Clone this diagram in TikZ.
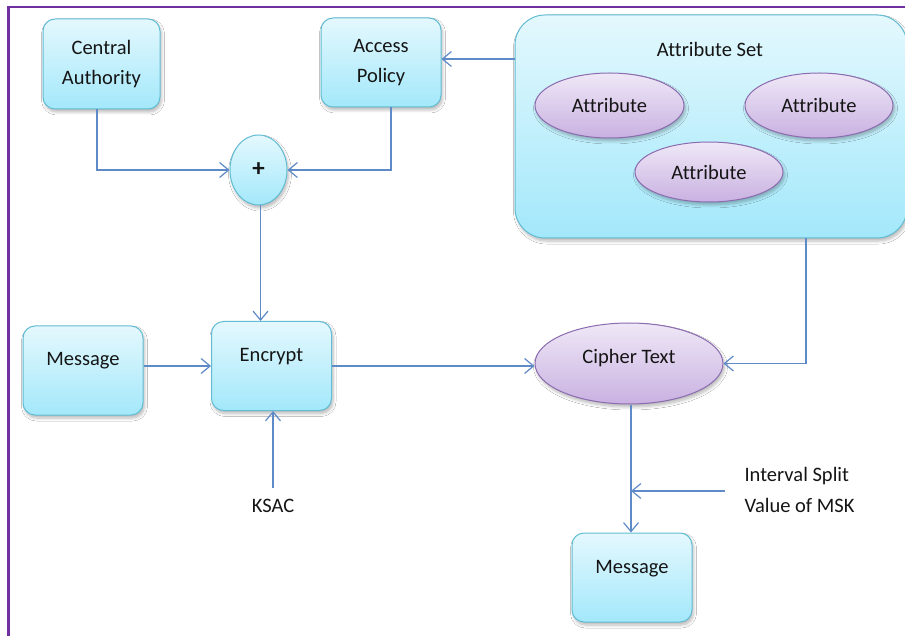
\documentclass[tikz,border=0pt]{standalone}
\usepackage{fontspec}
\setmainfont{Carlito}[Ligatures=NoCommon]
\usetikzlibrary{arrows.meta,shapes.geometric,shadows.blur,calc}
\definecolor{boxtop}{HTML}{E4F8FD}
\definecolor{boxbot}{HTML}{A3E8FB}
\definecolor{boxdraw}{HTML}{62BCD4}
\definecolor{elltop}{HTML}{EFE8F7}
\definecolor{ellbot}{HTML}{C9B1E1}
\definecolor{elldraw}{HTML}{8C6CB0}
\definecolor{linec}{HTML}{5F8AC8}
\definecolor{framec}{HTML}{7030A0}
\definecolor{txt}{HTML}{151515}
\tikzset{
  every node/.style={font=\fontsize{20.5}{30.5}\selectfont, text=txt},
  shade/.style={blur shadow={shadow blur steps=6, shadow xshift=1.5pt, shadow yshift=-3pt, shadow opacity=28, shadow blur radius=3pt}},
  box/.style={rectangle, rounded corners=12pt, draw=boxdraw, line width=1pt,
    top color=boxtop, bottom color=boxbot, shade, minimum width=120pt, minimum height=89pt,
    inner sep=0pt, align=center},
  upbox/.style={box, text height=14pt, text depth=23pt},
  ell/.style={ellipse, draw=elldraw, line width=1pt, top color=elltop, bottom color=ellbot,
    shade, inner sep=0pt},
  conn/.style={draw=linec, line width=1.2pt},
  arr/.style={conn, -{Straight Barb[length=9pt,width=15pt,line width=1.2pt]}},
}
\begin{document}
\begin{tikzpicture}[x=1pt,y=-1pt]
\useasboundingbox (0,0) rectangle (905,636);
\fill[white] (0,0) rectangle (905,636);
\draw[framec, line width=2.2pt] (8.5,640) -- (8.5,7) -- (910,7);

% attribute set
\node[box, rounded corners=30pt, minimum width=392pt, minimum height=223pt] (attrset) at (711,126.5) {};
\node (attrtitle) at (710,49) {Attribute Set};
\node[ell, minimum width=149pt, minimum height=65pt] (a1) at (609.5,105.5) {Attribute};
\node[ell, minimum width=148pt, minimum height=65pt] (a2) at (819,105.5) {Attribute};
\node[ell, minimum width=148pt, minimum height=60pt] (a3) at (709,172) {Attribute};

% top boxes
\node[box, minimum width=117pt, minimum height=90pt] (ca) at (101.5,64) {Central\\Authority};
\node[box, minimum height=89pt] (ap) at (381,62.5) {Access\\Policy};
\node[box, ellipse, minimum width=57pt, minimum height=70pt, font=\fontsize{25}{30}\selectfont\bfseries] (plus) at (258.5,170) {+};

% middle
\node[upbox] (msg1) at (83,370.5) {Message};
\node[upbox] (enc) at (271.5,366) {Encrypt};
\node[ell, minimum width=188pt, minimum height=81pt, text height=10pt, text depth=10pt] (cipher) at (629,363.5) {Cipher Text};
\node (ksac) at (273,506) {KSAC};

% bottom
\node[upbox] (msg2) at (632,577.5) {Message};
\node[anchor=west, align=left] (isv) at (741,490) {Interval Split\\Value of MSK};
\coordinate (isvstart) at (725,491);

% connectors
\draw[arr] ([yshift=3.5pt]ap.east -| attrset.west) -- ([yshift=3.5pt]ap.east);
\draw[arr] ([xshift=-4.5pt]ca.south) |- (plus.west);
\draw[arr] ([xshift=10pt]ap.south) |- (plus.east);
\draw[arr] ([xshift=2pt]plus.south) -- ([xshift=2pt]plus.south |- enc.north);
\draw[arr] (enc.west -| msg1.east) -- (enc.west);
\draw[arr] (enc.east) -- (enc.east -| cipher.west);
\draw[arr] ([yshift=8pt]ksac.north) -- (ksac.north |- enc.south);
\draw[arr] ([xshift=95pt]attrset.south) |- (cipher.east);
\draw[arr] ([xshift=2pt]cipher.south) -- ([xshift=2pt]cipher.south |- msg2.north);
\draw[arr] (isvstart) -- ([xshift=2pt]cipher.south |- isvstart);
\end{tikzpicture}
\end{document}
